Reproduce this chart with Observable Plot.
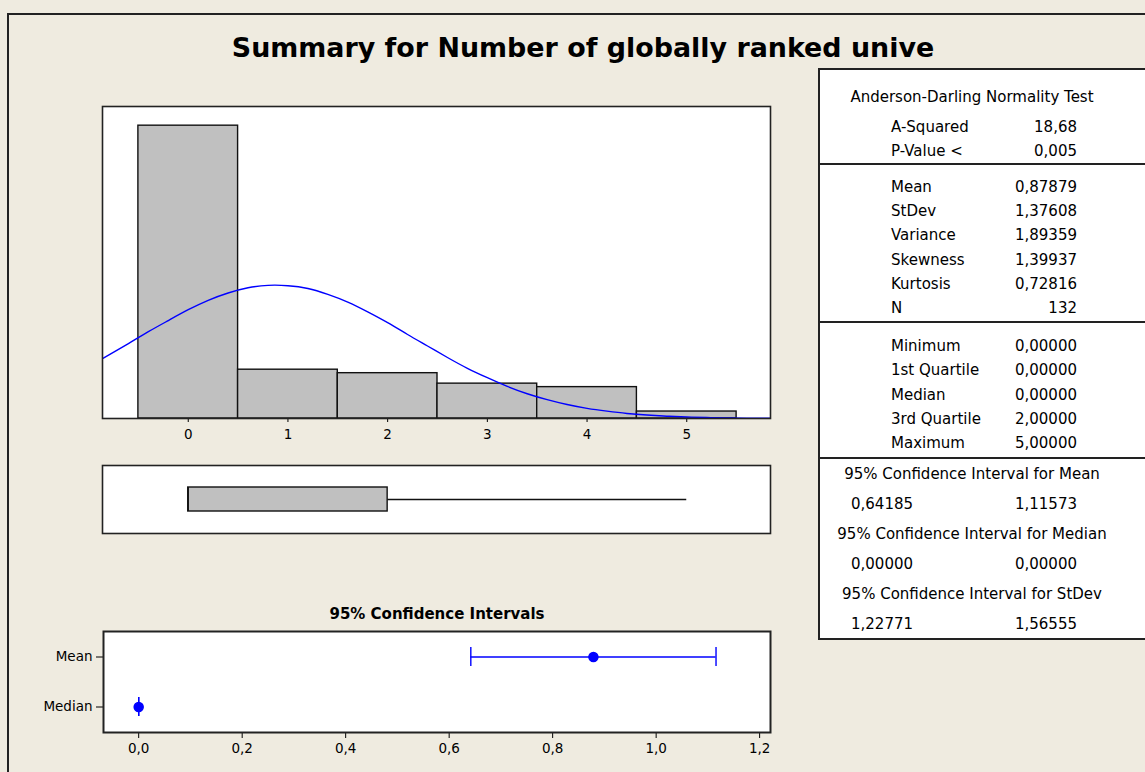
<!DOCTYPE html>
<html>
<head>
<meta charset="utf-8">
<script src="https://cdn.jsdelivr.net/npm/d3@7"></script>
<script src="https://cdn.jsdelivr.net/npm/@observablehq/plot@0.6"></script>
<style>
  html, body { margin: 0; padding: 0; background: #EFEBE0; }
  #page { position: relative; width: 1145px; height: 772px; overflow: hidden; background: #EFEBE0;
          font-family: "DejaVu Sans", sans-serif; color: #000; }
  .abs { position: absolute; }
  #border { left: 7px; top: 13px; width: 1300px; height: 900px; border-left: 2px solid #222; border-top: 2px solid #222; }
  #title { left: 0; width: 1166px; top: 31px; text-align: center; font-weight: bold; font-size: 26.9px; line-height: 34px; white-space: nowrap; }
  #citle { left: 0; width: 874px; top: 604px; text-align: center; font-weight: bold; font-size: 15px; line-height: 20px; }
  #table { left: 818px; top: 68px; width: 400px; height: 568px; background: #fff; border: 2px solid #222; box-sizing: content-box; }
  .rule { position: absolute; left: 0; width: 400px; height: 0; border-top: 2px solid #222; }
  .t { position: absolute; font-size: 15px; line-height: 20px; white-space: nowrap; }
  svg { overflow: visible; }
</style>
</head>
<body>
<div id="page">
  <div id="border" class="abs"></div>
  <div id="title" class="abs"></div>
  <div id="citle" class="abs"></div>
  <div id="hist" class="abs" style="left:102px; top:106px;"></div>
  <div id="box" class="abs" style="left:102px; top:465px;"></div>
  <div id="ci" class="abs" style="left:0px; top:631px;"></div>
  <div id="table" class="abs"></div>
</div>
<script>
// ---------------- data ----------------
const titleText = "Summary for Number of globally ranked unive";
const ciTitleText = "95% Confidence Intervals";

// histogram (integer values 0..5)
const binValues = [0, 1, 2, 3, 4, 5];
const binCounts = [84, 14, 13, 10, 9, 2];

// fitted normal curve (x, count scale)
const curveX = [-0.86, -0.6, -0.4, -0.2, 0, 0.2, 0.4, 0.6, 0.8, 1.0, 1.2, 1.4, 1.6, 1.8, 2.0, 2.2, 2.4, 2.6, 2.8, 3.0, 3.2, 3.4, 3.6, 3.8, 4.0, 4.2, 4.4, 4.6, 4.8, 5.0, 5.2, 5.4, 5.6, 5.84];
const curveY = [17.2, 21.5, 24.9, 28.1, 31.2, 33.9, 36.0, 37.5, 38.2, 38.1, 37.3, 35.6, 33.4, 30.6, 27.5, 24.1, 20.8, 17.5, 14.4, 11.7, 9.2, 7.1, 5.4, 4.0, 2.9, 2.1, 1.45, 0.99, 0.66, 0.43, 0.28, 0.17, 0.11, 0.06];

// boxplot five-number summary
const boxKeys = ["min", "q1", "median", "q3", "max"];
const boxNums = [0, 0, 0, 2, 5];

// confidence intervals
const ciNames = ["Mean", "Median"];
const ciEstimate = [0.87879, 0];
const ciLower = [0.64185, 0];
const ciUpper = [1.11573, 0];
const ciTicks = [0, 0.2, 0.4, 0.6, 0.8, 1.0, 1.2];

// table
const adHeader = "Anderson-Darling Normality Test";
const adLabels = ["A-Squared", "P-Value <"];
const adValues = ["18,68", "0,005"];
const momentLabels = ["Mean", "StDev", "Variance", "Skewness", "Kurtosis", "N"];
const momentValues = ["0,87879", "1,37608", "1,89359", "1,39937", "0,72816", "132"];
const quantLabels = ["Minimum", "1st Quartile", "Median", "3rd Quartile", "Maximum"];
const quantValues = ["0,00000", "0,00000", "0,00000", "2,00000", "5,00000"];
const intervalHeaders = ["95% Confidence Interval for Mean", "95% Confidence Interval for Median", "95% Confidence Interval for StDev"];
const intervalLow = ["0,64185", "0,00000", "1,22771"];
const intervalHigh = ["1,11573", "0,00000", "1,56555"];

// ---------------- drawing ----------------
const FONT = "DejaVu Sans, sans-serif";
const BLUE = "#0000FF";
const GREY = "#C0C0C0";
const xDomain = [-0.86, 5.84];

document.getElementById("title").textContent = titleText;
document.getElementById("citle").textContent = ciTitleText;

const histData = binValues.map((v, i) => ({x1: v - 0.5, x2: v + 0.5, count: binCounts[i]}));
const curveData = curveX.map((x, i) => ({x, y: curveY[i]}));

const hist = Plot.plot({
  width: 668, height: 342,
  marginLeft: 0, marginRight: 0, marginTop: 0, marginBottom: 30,
  style: {background: "transparent", fontFamily: FONT, fontSize: "13.5px", color: "#000", overflow: "visible"},
  x: {domain: xDomain, ticks: binValues, tickSize: 4, tickPadding: 7, tickFormat: d => String(d), label: null},
  y: {domain: [0, 89.5], axis: null},
  marks: [
    Plot.frame({fill: "white"}),
    Plot.rectY(histData, {x1: "x1", x2: "x2", y: "count", fill: GREY, stroke: "#111", strokeWidth: 1.4}),
    Plot.line(curveData, {x: "x", y: "y", stroke: BLUE, strokeWidth: 1.4, curve: "natural", clip: true}),
    Plot.frame({stroke: "#222", strokeWidth: 1.6})
  ]
});
document.getElementById("hist").appendChild(hist);

const bs = Object.fromEntries(boxKeys.map((k, i) => [k, boxNums[i]]));
const boxRow = [{k: "box", ...bs}];
const box = Plot.plot({
  width: 668, height: 68,
  marginLeft: 0, marginRight: 0, marginTop: 0, marginBottom: 0,
  style: {background: "transparent", overflow: "visible"},
  x: {domain: xDomain, axis: null},
  y: {type: "band", domain: ["box"], padding: 0.475, axis: null},
  marks: [
    Plot.frame({fill: "white"}),
    Plot.ruleY(boxRow, {y: "k", x1: "q3", x2: "max", stroke: "#111", strokeWidth: 1.4}),
    Plot.ruleY(boxRow, {y: "k", x1: "min", x2: "q1", stroke: "#111", strokeWidth: 1.4}),
    Plot.barX(boxRow, {y: "k", x1: "q1", x2: "q3", fill: GREY, stroke: "#111", strokeWidth: 1.4}),
    Plot.tickX(boxRow, {y: "k", x: "median", stroke: "#111", strokeWidth: 1.4}),
    Plot.frame({stroke: "#222", strokeWidth: 1.6})
  ]
});
document.getElementById("box").appendChild(box);

const ciData = ciNames.map((n, i) => ({name: n, est: ciEstimate[i], lo: ciLower[i], hi: ciUpper[i]}));
const commaFmt = d => d3.format(".1f")(d).replace(".", ",");
const ci = Plot.plot({
  width: 770, height: 131,
  marginLeft: 103, marginRight: 0, marginTop: 0, marginBottom: 30,
  style: {background: "transparent", fontFamily: FONT, fontSize: "13.5px", color: "#000", overflow: "visible"},
  x: {domain: [-0.068, 1.221], ticks: ciTicks, tickFormat: commaFmt, tickSize: 6, tickPadding: 5, label: null},
  y: {type: "band", domain: ciNames, paddingInner: 0.62, paddingOuter: 0.31, align: 0.5, tickSize: 7, tickPadding: 4, label: null},
  marks: [
    Plot.frame({fill: "white"}),
    Plot.ruleY(ciData, {y: "name", x1: "lo", x2: "hi", stroke: BLUE, strokeWidth: 1.4}),
    Plot.tickX(ciData, {y: "name", x: "lo", stroke: BLUE, strokeWidth: 1.4}),
    Plot.tickX(ciData, {y: "name", x: "hi", stroke: BLUE, strokeWidth: 1.4}),
    Plot.dot(ciData, {y: "name", x: "est", r: 4.5, fill: BLUE, stroke: BLUE}),
    Plot.frame({stroke: "#222", strokeWidth: 2})
  ]
});
document.getElementById("ci").appendChild(ci);

// ---------------- table ----------------
const table = document.getElementById("table");
const TL = 818, TT = 68;           // table origin on page
const labelX = 889 - TL;          // label left edge
const valueR = 1075 - TL;         // value right edge
const centerX = 970 - TL;         // centred headers
const loLeft = 849 - TL;

function put(text, yCenter, opts) {
  const d = document.createElement("div");
  d.className = "t";
  d.textContent = text;
  d.style.top = (yCenter - TT - 10) + "px";
  if (opts.align === "left") { d.style.left = opts.x + "px"; }
  else if (opts.align === "right") { d.style.right = (400 - opts.x) + "px"; }
  else { d.style.left = (opts.x - 300) + "px"; d.style.width = "600px"; d.style.textAlign = "center"; }
  table.appendChild(d);
}
function rule(y) {
  const r = document.createElement("div");
  r.className = "rule";
  r.style.top = (y - TT - 1) + "px";
  table.appendChild(r);
}

put(adHeader, 95, {align: "center", x: centerX});
adLabels.forEach((l, i) => { put(l, 125 + i * 24.2, {align: "left", x: labelX}); put(adValues[i], 125 + i * 24.2, {align: "right", x: valueR}); });
rule(162);
momentLabels.forEach((l, i) => { put(l, 185 + i * 24.2, {align: "left", x: labelX}); put(momentValues[i], 185 + i * 24.2, {align: "right", x: valueR}); });
rule(320);
quantLabels.forEach((l, i) => { put(l, 344 + i * 24.3, {align: "left", x: labelX}); put(quantValues[i], 344 + i * 24.3, {align: "right", x: valueR}); });
rule(456);
intervalHeaders.forEach((h, i) => {
  const y0 = 472 + i * 60;
  put(h, y0, {align: "center", x: centerX});
  put(intervalLow[i], y0 + 30, {align: "left", x: loLeft});
  put(intervalHigh[i], y0 + 30, {align: "right", x: valueR});
});
</script>
</body>
</html>
